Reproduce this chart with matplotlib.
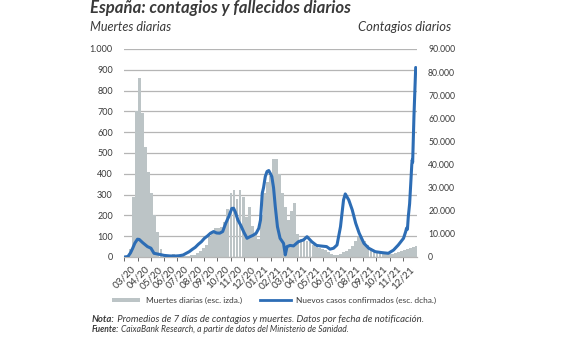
import matplotlib
matplotlib.use('Agg')
import matplotlib.pyplot as plt
import matplotlib.dates as mdates
from matplotlib.patches import Rectangle
from matplotlib.lines import Line2D
from matplotlib.ticker import FuncFormatter
import pandas as pd

plt.rcParams['font.family'] = ['Lato', 'DejaVu Sans']

# ---------------- data ----------------
death_start = '2020-03-01'   # weekly values of daily deaths (7-day average)
deaths = [0, 0, 40, 290, 700, 860, 690, 530, 410, 310, 200, 120, 40, 0,
          5, 10, 15, 10, 5, 5, 5, 5, 10, 12, 20, 30, 45, 60, 95, 125,
          140, 140, 145, 170, 230, 310, 320, 280, 320, 290, 190, 240, 150, 110,
          85, 200, 310, 360, 390, 470, 470, 400, 310, 240, 180, 220, 260, 110,
          85, 80, 75, 70, 60, 50, 45, 40, 35, 25, 15, 12, 12, 15, 22, 28,
          38, 55, 78, 98, 90, 78, 60, 45, 35, 27, 22, 18, 15, 14, 15, 20,
          25, 30, 35, 40, 45, 50, 52]

case_dates = ['2020-03-01', '2020-03-09', '2020-03-15', '2020-03-20', '2020-03-25',
              '2020-03-31', '2020-04-04', '2020-04-12', '2020-04-23', '2020-05-01',
              '2020-05-08', '2020-05-16', '2020-05-24', '2020-05-31', '2020-06-14',
              '2020-06-28', '2020-07-05', '2020-07-14', '2020-07-21', '2020-07-28',
              '2020-08-04', '2020-08-11', '2020-08-18', '2020-08-25', '2020-09-01',
              '2020-09-08', '2020-09-15', '2020-09-22', '2020-09-29', '2020-10-06',
              '2020-10-13', '2020-10-20', '2020-10-27', '2020-11-03', '2020-11-07',
              '2020-11-11', '2020-11-17', '2020-11-23', '2020-12-01', '2020-12-08',
              '2020-12-15', '2020-12-22', '2020-12-29', '2021-01-04', '2021-01-08',
              '2021-01-12', '2021-01-15', '2021-01-19', '2021-01-23', '2021-01-27',
              '2021-01-31', '2021-02-03', '2021-02-07', '2021-02-11', '2021-02-16',
              '2021-02-22', '2021-03-02', '2021-03-06', '2021-03-10', '2021-03-17',
              '2021-03-25', '2021-04-05', '2021-04-17', '2021-04-25', '2021-05-06',
              '2021-05-17', '2021-05-25', '2021-06-09', '2021-06-17', '2021-06-25',
              '2021-07-03', '2021-07-11', '2021-07-18', '2021-07-22', '2021-07-30',
              '2021-08-07', '2021-08-15', '2021-08-23', '2021-09-03', '2021-09-14',
              '2021-09-29', '2021-10-14', '2021-10-29', '2021-11-10', '2021-11-21',
              '2021-12-03', '2021-12-08', '2021-12-10', '2021-12-12', '2021-12-14',
              '2021-12-17', '2021-12-20', '2021-12-22', '2021-12-23', '2021-12-24',
              '2021-12-27', '2021-12-31']
cases = [0, 200, 1800, 3800, 6000,
         7700, 7600, 6200, 4500, 3800,
         1600, 1300, 1000, 700, 450,
         450, 550, 870, 1600, 2300,
         3300, 4200, 5500, 6600, 8100,
         9100, 10300, 11000, 10400, 10300,
         11000, 14600, 17500, 21000, 21100,
         19500, 16000, 13900, 10600, 8100,
         8800, 9400, 10300, 12400, 16000,
         27600, 30000, 34800, 37000, 37400,
         36000, 34800, 30000, 21800, 13100,
         8100, 5900, 900, 4500, 5000,
         4800, 6600, 7400, 8800, 6600,
         5000, 4800, 4500, 3400, 3800,
         5200, 13100, 24700, 27300, 24700,
         20400, 14600, 10300, 5900, 3800,
         2300, 1900, 1600, 3000, 5200,
         8100, 11000, 12500, 12000, 17500,
         23000, 33000, 40000, 42000, 41000,
         61000, 82000]

month_ticks_start = '2020-03-01'
month_ticks_end = '2021-12-01'

title = 'España: contagios y fallecidos diarios'
left_label = 'Muertes diarias'
right_label = 'Contagios diarios'
legend_labels = ['Muertes diarias (esc. izda.)', 'Nuevos casos confirmados (esc. dcha.)']
note_bold = ['Nota:', 'Fuente:']
note_text = [' Promedios de 7 días de contagios y muertes. Datos por fecha de notificación.',
             ' CaixaBank Research, a partir de datos del Ministerio de Sanidad.']

# ---------------- style ----------------
GRAY = '#bcc4c6'
BLUE = '#2d6db5'
GRID = '#b5b5b5'
TXT = '#3a3a3a'
W, H = 568, 338

fig = plt.figure(figsize=(W / 100, H / 100), dpi=100)
renderer = fig.canvas.get_renderer()


def fx(px):
    return px / W


def fy(py):
    return 1 - py / H


def fit(t, target_px):
    """Scale a text's font size so that its width matches target_px."""
    for _ in range(3):
        w = t.get_window_extent(renderer).width
        t.set_fontsize(t.get_fontsize() * target_px / w)
    return t


ax = fig.add_axes([fx(124), fy(257), (417 - 124) / W, (257 - 49) / H])
ax2 = ax.twinx()

ddates = pd.date_range(death_start, periods=len(deaths), freq='7D')
ax.bar(ddates, deaths, width=6.5, color=GRAY, zorder=2, linewidth=0)
ax2.plot(pd.to_datetime(case_dates), cases, color=BLUE, lw=2.2,
         solid_joinstyle='round', solid_capstyle='round')

ax.set_xlim(pd.Timestamp('2020-02-29'), pd.Timestamp('2022-01-03'))
ax.set_ylim(0, 1000)
ax2.set_ylim(0, 90000)


def thous(v, pos):
    return f'{int(round(v)):,}'.replace(',', '.')


ax.set_yticks(range(0, 1001, 100))
ax2.set_yticks(range(0, 90001, 10000))
ax.yaxis.set_major_formatter(FuncFormatter(thous))
ax2.yaxis.set_major_formatter(FuncFormatter(thous))
ax.grid(axis='y', color=GRID, lw=0.9, zorder=0)
ax.set_axisbelow(True)

for a in (ax, ax2):
    for s in a.spines.values():
        s.set_visible(False)
ax.spines['bottom'].set_visible(True)
ax.spines['bottom'].set_color(GRID)
ax.spines['bottom'].set_linewidth(0.9)

ax.tick_params(axis='y', length=0, pad=8, labelsize=6.5, labelcolor=TXT)
ax2.tick_params(axis='y', length=0, pad=8, labelsize=6.2, labelcolor=TXT)

mticks = pd.date_range(month_ticks_start, month_ticks_end, freq='MS')
ax.set_xticks(mticks)
ax.xaxis.set_major_formatter(mdates.DateFormatter('%m/%y'))
ax.tick_params(axis='x', length=3, width=0.7, color='#666666', pad=2.5,
               labelsize=7.2, labelcolor=TXT)
for lab in ax.get_xticklabels():
    lab.set_rotation(45)
    lab.set_ha('center')

# ---------------- texts ----------------
t = fig.text(fx(90), fy(12.7), title, fontsize=12, fontweight='bold',
             style='italic', color=TXT, va='baseline', ha='left')
fit(t, 260)
t = fig.text(fx(90.5), fy(30.7), left_label, fontsize=9, style='italic',
             color=TXT, va='baseline', ha='left')
fit(t, 81)
t = fig.text(fx(451), fy(30.7), right_label, fontsize=9, style='italic',
             color=TXT, va='baseline', ha='right')
fit(t, 94)

# legend (drawn manually to match position)
fig.add_artist(Rectangle((fx(112), fy(302.4)), 28 / W, 4.8 / H,
                         transform=fig.transFigure, facecolor=GRAY,
                         edgecolor='none'))
fig.add_artist(Line2D([fx(260), fx(290.5)], [fy(300), fy(300)],
                      transform=fig.transFigure, color=BLUE, lw=2.0))
t = fig.text(fx(145.8), fy(302.6), legend_labels[0], fontsize=7, color=TXT,
             va='baseline', ha='left')
fit(t, 96.5)
t = fig.text(fx(296), fy(302.6), legend_labels[1], fontsize=7, color=TXT,
             va='baseline', ha='left')
fit(t, 140)

# notes
targets = [423 - 91.7, 350 - 91.7]
for i, (b, tx) in enumerate(zip(note_bold, note_text)):
    y = fy(321.7 + 10 * i)
    size = 6.6
    for _ in range(3):
        tb = fig.text(fx(91.7), y, b, fontsize=size, fontweight='bold',
                      style='italic', color=TXT, va='baseline', ha='left')
        bb = tb.get_window_extent(renderer)
        tr = fig.text(bb.x1 / W, y, tx, fontsize=size, style='italic',
                      color=TXT, va='baseline', ha='left')
        total = tr.get_window_extent(renderer).x1 - bb.x0
        size = size * targets[i] / total
        tb.remove()
        tr.remove()
    tb = fig.text(fx(91.7), y, b, fontsize=size, fontweight='bold',
                  style='italic', color=TXT, va='baseline', ha='left')
    bb = tb.get_window_extent(renderer)
    fig.text(bb.x1 / W, y, tx, fontsize=size, style='italic', color=TXT,
             va='baseline', ha='left')

fig.savefig('out.png', dpi=100)
